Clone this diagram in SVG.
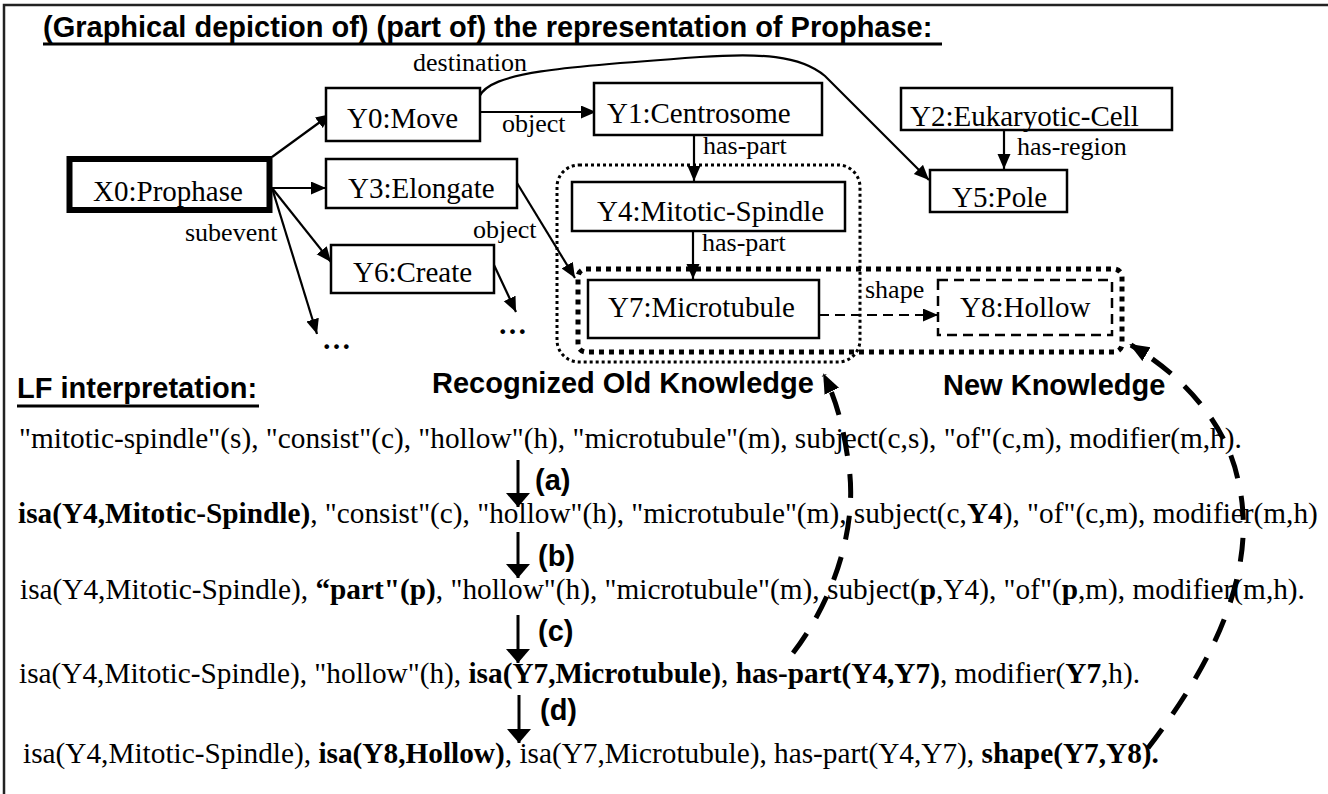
<svg xmlns="http://www.w3.org/2000/svg" width="1328" height="794" viewBox="0 0 1328 794">
<defs>
<style>
.box{fill:#fff;stroke:#000;stroke-width:2.5}
.tn{font-family:"Liberation Serif","Times New Roman",serif;font-size:29px;fill:#000}
.lf{font-family:"Liberation Serif","Times New Roman",serif;font-size:29.3px;fill:#000}
.lb{font-family:"Liberation Serif","Times New Roman",serif;font-size:26px;fill:#000}
.ar{font-family:"Liberation Sans",Arial,sans-serif;font-weight:bold;font-size:29px;fill:#000}
.b{font-weight:bold}
.e{fill:none;stroke:#000;stroke-width:2.2;marker-end:url(#ah)}
.ea{fill:none;stroke:#000;stroke-width:3;marker-end:url(#bh)}
.dc{fill:none;stroke:#000;stroke-width:5;stroke-dasharray:24 18;marker-end:url(#dh)}
.ul{stroke:#000;stroke-width:3}
</style>
<marker id="ah" markerUnits="userSpaceOnUse" markerWidth="16" markerHeight="14" refX="15" refY="6.5" orient="auto"><path d="M0,0 L15,6.5 L0,13 z" fill="#000"/></marker>
<marker id="bh" markerUnits="userSpaceOnUse" markerWidth="16" markerHeight="26" refX="14" refY="12" orient="auto"><path d="M0,0 L14,12 L0,24 z" fill="#000"/></marker>
<marker id="dh" markerUnits="userSpaceOnUse" markerWidth="22" markerHeight="18" refX="18" refY="8" orient="auto"><path d="M0,0 L20,8 L0,16 z" fill="#000"/></marker>
</defs>
<rect width="1328" height="794" fill="#fff"/>
<path d="M4,794 V5 H1328" fill="none" stroke="#222" stroke-width="2.5"/>

<text class="ar" x="43" y="37">(Graphical depiction of) (part of) the representation of Prophase:</text>
<line class="ul" x1="43" y1="44" x2="942" y2="44"/>

<g id="regions">
<rect x="557" y="165" width="303" height="197" rx="22" fill="none" stroke="#000" stroke-width="3" stroke-dasharray="3 3"/>
<rect x="578" y="269" width="544" height="83" rx="8" fill="none" stroke="#000" stroke-width="5" stroke-dasharray="5 5"/>
</g>

<g id="connectors">
<line class="e" x1="272" y1="157" x2="331" y2="114"/>
<line class="e" x1="272" y1="188" x2="326" y2="188"/>
<line class="e" x1="272" y1="188" x2="331" y2="262"/>
<line class="e" x1="272" y1="188" x2="317" y2="334"/>
<line class="e" x1="480" y1="112" x2="596" y2="112"/>
<path class="e" d="M479,97 C490,72 560,67 700,57 C760,53 800,55 825,76 L929,180"/>
<line class="e" x1="694" y1="135" x2="694" y2="181"/>
<line class="e" x1="693" y1="231" x2="693" y2="279"/>
<line class="e" x1="1004" y1="130" x2="1004" y2="169"/>
<line class="e" x1="517" y1="183" x2="575" y2="278"/>
<line class="e" x1="494" y1="265" x2="516" y2="312"/>
<line class="e" x1="819" y1="315" x2="938" y2="315" stroke-dasharray="10 6"/>
<text class="lb" x="185" y="241">subevent</text>
<text class="lb" x="413" y="71">destination</text>
<text class="lb" x="502" y="132">object</text>
<text class="lb" x="473" y="238">object</text>
<text class="lb" x="703" y="154">has-part</text>
<text class="lb" x="702" y="251">has-part</text>
<text class="lb" x="1017" y="155">has-region</text>
<text class="lb" x="865" y="298">shape</text>
<line class="ea" x1="518" y1="460" x2="518" y2="507"/>
<line class="ea" x1="518" y1="532" x2="518" y2="578"/>
<line class="ea" x1="518" y1="615" x2="518" y2="663"/>
<line class="ea" x1="519" y1="695" x2="519" y2="743"/>
<text class="ar" x="535" y="490">(a)</text>
<text class="ar" x="538" y="566">(b)</text>
<text class="ar" x="538" y="641">(c)</text>
<text class="ar" x="540" y="720">(d)</text>
<path class="dc" d="M793,653 C830,605 860,530 848,460 C843,425 836,400 824,375"/>
<path class="dc" d="M1148,748 C1200,680 1262,580 1238,480 C1228,430 1190,380 1131,345"/>
</g>

<g id="X0"><rect x="69.5" y="159" width="200" height="51" fill="#fff" stroke="#000" stroke-width="6"/><text class="tn" x="93" y="201">X0:Prophase</text></g>
<g id="Y0"><rect class="box" x="326" y="88" width="154" height="53"/><text class="tn" x="347" y="128">Y0:Move</text></g>
<g id="Y1"><rect class="box" x="594" y="83" width="228" height="52"/><text class="tn" x="607" y="123">Y1:Centrosome</text></g>
<g id="Y2"><rect class="box" x="901" y="88" width="271" height="42"/><text class="tn" x="910" y="126">Y2:Eukaryotic-Cell</text></g>
<g id="Y3"><rect class="box" x="326" y="159" width="191" height="49"/><text class="tn" x="348" y="198">Y3:Elongate</text></g>
<g id="Y4"><rect class="box" x="572" y="182" width="273" height="49"/><text class="tn" x="597" y="221">Y4:Mitotic-Spindle</text></g>
<g id="Y5"><rect class="box" x="930" y="170" width="137" height="42"/><text class="tn" x="952" y="207">Y5:Pole</text></g>
<g id="Y6"><rect class="box" x="331" y="245" width="163" height="48"/><text class="tn" x="353" y="282">Y6:Create</text></g>
<g id="Y7"><rect class="box" x="588" y="280" width="231" height="58"/><text class="tn" x="608" y="317">Y7:Microtubule</text></g>
<g id="Y8"><rect x="938" y="280" width="174" height="55" fill="#fff" stroke="#000" stroke-width="2.5" stroke-dasharray="10 6"/><text class="tn" x="960" y="317">Y8:Hollow</text></g>
<g id="more1"><text class="tn b" x="322" y="349">…</text></g>
<g id="more2"><text class="tn b" x="498" y="334">…</text></g>

<text class="ar" x="432" y="393">Recognized Old Knowledge</text>
<text class="ar" x="943" y="395">New Knowledge</text>
<text class="ar" x="17" y="398">LF interpretation:</text>
<line class="ul" x1="17" y1="406" x2="259" y2="406"/>

<text class="lf" x="19" y="448">"mitotic-spindle"(s), "consist"(c), "hollow"(h), "microtubule"(m), subject(c,s), "of"(c,m), modifier(m,h).</text>
<text class="lf" x="18" y="523"><tspan class="b">isa(Y4,Mitotic-Spindle)</tspan>, "consist"(c), "hollow"(h), "microtubule"(m), subject(c,<tspan class="b">Y4</tspan>), "of"(c,m), modifier(m,h)</text>
<text class="lf" x="20" y="599">isa(Y4,Mitotic-Spindle), <tspan class="b">“part"(p)</tspan>, "hollow"(h), "microtubule"(m), subject(<tspan class="b">p</tspan>,Y4), "of"(<tspan class="b">p</tspan>,m), modifier(m,h).</text>
<text class="lf" x="19" y="683">isa(Y4,Mitotic-Spindle), "hollow"(h), <tspan class="b">isa(Y7,Microtubule)</tspan>, <tspan class="b">has-part(Y4,Y7)</tspan>, modifier(<tspan class="b">Y7</tspan>,h).</text>
<text class="lf" x="23" y="763">isa(Y4,Mitotic-Spindle), <tspan class="b">isa(Y8,Hollow)</tspan>, isa(Y7,Microtubule), has-part(Y4,Y7), <tspan class="b">shape(Y7,Y8).</tspan></text>
</svg>
